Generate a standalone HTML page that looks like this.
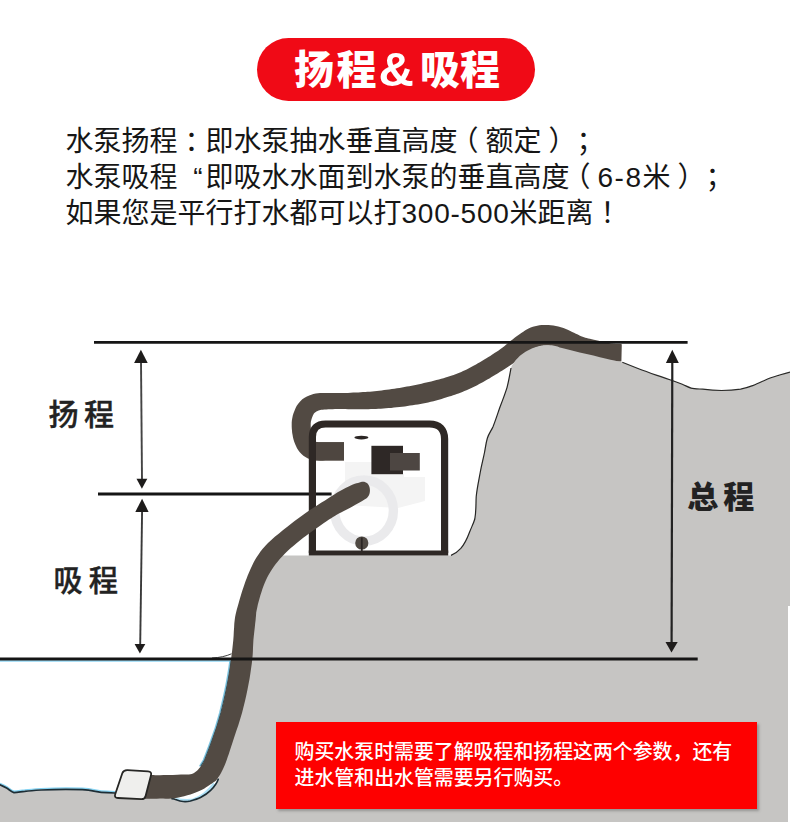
<!DOCTYPE html>
<html lang="zh-CN">
<head>
<meta charset="utf-8">
<title>扬程&amp;吸程</title>
<style>
html,body{margin:0;padding:0;background:#fff;}
body{width:790px;height:822px;position:relative;overflow:hidden;
  font-family:"Liberation Sans","Noto Sans CJK SC",sans-serif;}
#pill{position:absolute;left:257px;top:38px;width:278px;height:63px;border-radius:32px;
  background:#f00a16;color:#fff;font-weight:900;font-size:40px;line-height:64px;
  text-align:center;white-space:nowrap;box-sizing:border-box;padding-left:2px;
  font-family:"Liberation Sans","Noto Sans CJK SC",sans-serif;}
#pill .amp{display:inline-block;margin:0 6px 0 2px;font-size:49px;line-height:40px;vertical-align:-2px;font-weight:700;}
#desc{position:absolute;left:65.5px;top:124px;width:720px;margin:0;
  font-family:"Liberation Sans","Noto Sans CJK SC",sans-serif;
  font-size:28px;line-height:36px;color:#161616;white-space:nowrap;font-weight:400;text-spacing-trim:space-all;}
#desc div{height:36px;}
#desc .p{display:inline-block;width:28px;text-align:center;font-feature-settings:"halt" 1;}
#desc .q{display:inline-block;width:28px;text-align:right;font-feature-settings:"halt" 1;position:relative;left:-3px;}
#desc .n{font-family:"Liberation Sans",sans-serif;}
#dia{position:absolute;left:0;top:0;width:790px;height:822px;}
.lbl{position:absolute;font-family:"Liberation Sans","Noto Sans CJK SC",sans-serif;
  color:#222;white-space:nowrap;line-height:1;}
#note{position:absolute;left:276px;top:722px;width:481px;height:87px;background:#fe0000;
  box-shadow:1.5px 2px 2.5px rgba(90,90,90,.45);}
#note p{position:absolute;left:18.6px;top:18.1px;margin:0;color:#fff;
  font-family:"Liberation Sans","Noto Sans CJK SC",sans-serif;
  font-size:19.9px;line-height:25.6px;white-space:nowrap;font-weight:500;}
</style>
</head>
<body>
<svg id="dia" width="790" height="822" viewBox="0 0 790 822">
  <!-- discharge hose (behind ground and frame) -->
  <path fill="#524a43" d="M344.0,442.2 L341.7,442.2 L339.3,442.2 L337.0,442.2 L334.7,442.2 L332.3,442.2 L330.0,442.2 L327.4,442.2 L324.8,442.3 L322.4,442.3 L320.3,442.3 L318.6,442.2 L317.4,442.1 L316.5,441.9 L315.8,441.6 L315.3,441.5 L315.0,441.3 L314.8,441.1 L314.5,440.9 L314.2,440.5 L313.8,440.0 L313.4,439.3 L313.0,438.3 L312.5,437.2 L312.1,436.0 L311.8,434.9 L311.5,433.5 L311.2,432.1 L311.0,430.5 L310.9,428.9 L310.8,427.4 L310.7,425.9 L310.7,424.6 L310.7,423.5 L310.8,422.4 L310.9,421.5 L311.2,420.5 L311.5,419.2 L312.0,417.7 L312.6,416.3 L313.1,415.1 L313.6,414.2 L313.9,413.6 L314.2,413.2 L314.7,412.7 L315.4,412.2 L316.4,411.6 L317.5,411.0 L318.6,410.5 L319.5,410.2 L320.3,410.0 L321.3,409.8 L322.7,409.7 L324.4,409.6 L326.3,409.4 L328.3,409.3 L330.4,409.2 L332.6,409.2 L335.0,409.1 L337.5,409.1 L340.1,409.1 L342.6,409.1 L345.3,409.1 L348.1,409.2 L350.8,409.2 L353.5,409.3 L356.2,409.3 L358.7,409.3 L361.1,409.3 L363.6,409.3 L366.0,409.3 L368.4,409.2 L370.9,409.1 L373.4,409.0 L375.9,408.9 L378.4,408.8 L380.8,408.7 L383.4,408.5 L385.9,408.3 L388.6,408.1 L391.2,407.9 L394.0,407.6 L396.7,407.3 L399.4,407.0 L402.1,406.7 L404.8,406.4 L407.4,406.0 L410.0,405.6 L412.6,405.2 L415.2,404.8 L417.8,404.4 L420.4,403.9 L423.0,403.5 L425.6,403.0 L428.2,402.4 L430.8,401.8 L433.5,401.2 L436.1,400.5 L438.9,399.7 L441.6,398.9 L444.2,398.1 L446.7,397.3 L449.1,396.6 L451.2,395.9 L453.1,395.3 L454.9,394.7 L456.7,394.1 L458.5,393.4 L460.4,392.7 L462.4,391.9 L464.4,391.1 L466.5,390.2 L468.7,389.3 L470.9,388.3 L473.0,387.3 L475.1,386.3 L477.2,385.2 L479.2,384.1 L481.2,383.0 L483.2,381.9 L485.2,380.8 L487.3,379.6 L489.4,378.4 L491.5,377.1 L493.7,375.8 L495.8,374.5 L498.0,373.2 L500.1,371.8 L502.4,370.5 L504.7,369.0 L507.0,367.6 L509.2,366.1 L511.5,364.6 L513.7,363.0 L515.7,361.5 L517.7,360.0 L519.5,358.6 L521.2,357.3 L522.9,356.1 L524.6,354.9 L526.3,353.6 L527.9,352.5 L529.4,351.5 L530.9,350.5 L532.3,349.7 L533.7,348.8 L535.1,348.1 L536.3,347.5 L537.3,347.0 L538.2,346.7 L539.1,346.4 L540.2,346.1 L541.2,345.8 L542.3,345.7 L543.4,345.5 L544.5,345.5 L545.8,345.4 L547.2,345.5 L548.8,345.6 L550.4,345.9 L552.0,346.1 L553.6,346.5 L555.1,346.8 L556.6,347.3 L558.2,347.9 L559.9,348.6 L561.9,349.4 L564.0,350.3 L566.0,351.2 L567.9,351.9 L569.7,352.7 L571.6,353.5 L573.6,354.3 L575.8,355.1 L578.0,355.9 L580.3,356.5 L582.4,357.0 L584.4,357.4 L586.3,357.7 L588.2,358.0 L590.1,358.3 L592.3,358.7 L594.8,359.2 L597.3,359.6 L599.9,360.1 L602.3,360.5 L604.5,360.8 L606.4,361.1 L608.1,361.2 L609.6,361.3 L611.0,361.3 L612.2,361.4 L613.5,361.4 L614.9,361.4 L616.3,361.4 L617.7,361.4 L619.0,361.4 L620.2,361.4 L621.4,361.4 L621.8,344.2 L620.5,344.1 L619.2,344.1 L618.0,344.0 L616.8,344.0 L615.7,343.9 L614.5,343.8 L613.3,343.7 L612.2,343.6 L611.2,343.4 L610.1,343.3 L608.9,343.1 L607.5,342.8 L605.7,342.4 L603.5,341.9 L601.1,341.4 L598.6,340.8 L596.2,340.2 L593.9,339.7 L591.8,339.2 L589.9,338.8 L588.2,338.5 L586.7,338.1 L585.3,337.7 L584.0,337.3 L582.6,336.8 L581.1,336.2 L579.5,335.4 L577.8,334.6 L575.9,333.7 L574.0,332.8 L572.2,332.0 L570.3,331.1 L568.2,330.1 L565.9,329.0 L563.5,328.0 L560.9,327.2 L558.3,326.5 L555.8,326.0 L553.4,325.5 L550.9,325.2 L548.5,325.0 L546.2,325.0 L543.9,325.0 L541.6,325.1 L539.4,325.3 L537.2,325.7 L535.0,326.2 L532.9,326.8 L530.7,327.6 L528.6,328.6 L526.7,329.6 L525.0,330.6 L523.3,331.7 L521.7,332.7 L519.9,333.9 L518.1,335.2 L516.3,336.5 L514.6,337.8 L512.9,339.2 L511.1,340.5 L509.3,342.0 L507.5,343.5 L505.7,344.9 L504.0,346.4 L502.3,347.7 L500.5,349.0 L498.6,350.4 L496.6,351.7 L494.5,353.1 L492.3,354.5 L490.2,355.9 L488.0,357.2 L486.0,358.5 L483.9,359.8 L481.9,361.0 L479.9,362.2 L477.9,363.3 L476.0,364.4 L474.0,365.5 L472.1,366.6 L470.3,367.6 L468.5,368.5 L466.7,369.4 L465.0,370.3 L463.1,371.1 L461.3,371.9 L459.3,372.7 L457.4,373.5 L455.5,374.2 L453.6,374.9 L451.9,375.5 L450.3,376.1 L448.8,376.6 L447.2,377.1 L445.5,377.6 L443.5,378.2 L441.3,378.8 L438.9,379.5 L436.4,380.1 L433.8,380.8 L431.2,381.4 L428.7,382.0 L426.3,382.6 L423.9,383.1 L421.5,383.7 L419.1,384.2 L416.7,384.7 L414.2,385.2 L411.8,385.7 L409.3,386.2 L406.9,386.6 L404.4,387.1 L402.0,387.5 L399.5,387.9 L396.9,388.3 L394.4,388.7 L391.8,389.1 L389.2,389.4 L386.6,389.8 L384.1,390.1 L381.6,390.4 L379.2,390.7 L376.9,391.0 L374.5,391.2 L372.2,391.5 L369.9,391.7 L367.6,391.8 L365.3,392.0 L363.0,392.1 L360.7,392.3 L358.3,392.4 L355.8,392.5 L353.3,392.6 L350.6,392.7 L347.9,392.9 L345.2,393.0 L342.5,393.0 L339.9,393.1 L337.5,393.1 L335.1,393.1 L332.6,393.0 L330.2,393.0 L327.9,392.9 L325.7,393.0 L323.8,393.0 L322.0,393.0 L320.0,393.1 L317.9,393.2 L315.7,393.6 L313.4,394.1 L311.3,394.7 L309.2,395.5 L306.9,396.5 L304.6,397.7 L302.3,399.3 L300.1,401.4 L298.2,403.7 L296.6,406.1 L295.4,408.6 L294.4,411.0 L293.5,413.3 L292.8,415.5 L292.3,417.9 L291.9,420.2 L291.7,422.5 L291.7,424.6 L291.7,426.6 L291.8,428.6 L292.0,430.7 L292.2,432.9 L292.6,435.1 L293.0,437.4 L293.6,439.7 L294.3,442.0 L295.1,444.1 L296.0,446.1 L297.0,448.2 L298.3,450.2 L299.8,452.2 L301.5,454.1 L303.4,455.7 L305.4,457.1 L307.5,458.3 L309.8,459.2 L312.1,459.8 L314.6,460.3 L317.3,460.6 L320.1,460.7 L322.8,460.7 L325.4,460.5 L327.8,460.4 L330.0,460.4 L332.3,460.4 L334.7,460.4 L337.0,460.4 L339.3,460.4 L341.7,460.4 L344.0,460.4 Z"/>
  <!-- ground -->
  <path id="ground" fill="#c6c5c3" stroke="none"
    d="M266,555.4 L451,555.4 C455,554 458,551.5 460.8,548.4 C464.5,544 467,539 469.2,533
       C471.5,527 473.5,523.5 474.8,519 C476.2,512 475.8,504 476.2,496.7 C477,488 479,479.5 480.4,471.5
       C481.6,465 483.3,458.5 484.6,452 C485.5,447.5 486,442.5 487.4,438 C488.6,434 491.3,430.5 493,426.7
       C495.5,420.5 497.7,413.5 500,407 C502.5,400.5 505,394 507,387.6 C508.8,381 509.8,374.5 511,368 C511.6,365.8 512.8,364 514,362.4 C516.3,359.3 519,356.3 522.3,354 C526.5,351 531,348.5 536,347
       C540.5,345.8 547,345.2 553,345.4 C556,345.6 559,347.2 562,348.1 C568,349.8 574,351.2 579.7,352.5
       C589,354.6 598,356.6 606.3,358.7 C612,360 617,361 622.3,362.3 C628,364.5 633,366.5 638,368.5 C644.5,371 651,373.3 657,375.4 C662,377.2 667,378.8 672.2,380.5
       C675.5,381.7 679,383 682.3,384.3 C685.5,385.6 688,387.2 691.1,388.1 C694,388.9 698,388.9 702.7,389.2
       C709,390 715,390.5 721.6,390.5 C728,390.5 735,390 740.6,389.2 C745,388.3 749,387 753.3,385.4
       C757.5,383.7 762,381.5 766,379.7 C770,378 774.5,376.6 778.6,375.3 C782.5,374.2 786,373.2 790,372.2
       L790,822 L0,822 L0,784.7 C3,786 5,787 6.6,788 C9.5,789.8 11.5,792 14,792.6 C18,792.6 21,791.6 24.7,791.3
       C30,790.7 36,790.3 41,790 C49,789.6 58,789.3 65.8,789.3 C71,789.3 77,789.4 82.3,789.6
       C87,789.9 91,790.5 95.4,791.3 C99,792 103,792.5 107,792.6 L115,793 L115,797 L118,795 L172,795 L174.2,799 C177,800 180,801.3 183.3,801.5 C186,801.7 188,801.5 190.4,801
       C194,800 197.5,799 200.5,797.5 C204.5,795.5 208,793 210.6,790.4 C212.7,788.4 214.3,786.5 215.7,784.3
       C216.8,782.7 217.6,781 218.2,779.2
       C222,765 226,740 231.5,713 C234,700 236.5,690 238,683.8 C240,672 241,665 241.7,659 C242.5,650 243,645 243.2,640
       C243.8,632 244.5,626 245.2,620 L247.1,608.6 C248.3,602 250,596 251.8,591.5 C253.5,586 255.5,581 257.5,576.2
       C259.8,571 262,566.5 265.2,562 L270,555.4 Z"/>
  <!-- ground outline (thin) -->
  <path fill="none" stroke="#262624" stroke-width="1.2" d="M451,555.4 C455,554 458,551.5 460.8,548.4 C464.5,544 467,539 469.2,533
       C471.5,527 473.5,523.5 474.8,519 C476.2,512 475.8,504 476.2,496.7 C477,488 479,479.5 480.4,471.5
       C481.6,465 483.3,458.5 484.6,452 C485.5,447.5 486,442.5 487.4,438 C488.6,434 491.3,430.5 493,426.7
       C495.5,420.5 497.7,413.5 500,407 C502.5,400.5 505,394 507,387.6 C508.8,381 509.8,374.5 511,368"/>
  <path fill="none" stroke="#2a2a28" stroke-width="1.2" d="M622.3,362.3 C628,364.5 633,366.5 638,368.5 C644.5,371 651,373.3 657,375.4 C662,377.2 667,378.8 672.2,380.5
       C675.5,381.7 679,383 682.3,384.3 C685.5,385.6 688,387.2 691.1,388.1 C694,388.9 698,388.9 702.7,389.2
       C709,390 715,390.5 721.6,390.5 C728,390.5 735,390 740.6,389.2 C745,388.3 749,387 753.3,385.4
       C757.5,383.7 762,381.5 766,379.7 C770,378 774.5,376.6 778.6,375.3 C782.5,374.2 786,373.2 790,372.2"/>
  <!-- white strip at right edge -->
  <rect x="788" y="606" width="2" height="216" fill="#fff"/>
  <!-- water -->
  <path fill="#fff" stroke="none" d="M172,798.4 L175,797.8 C177,800 180,801.3 183.3,801.5 C186,801.7 188,801.5 190.4,801
       C194,800 197.5,799 200.5,797.5 C204.5,795.5 208,793 210.6,790.4 C212.7,788.4 214.3,786.5 215.7,784.3
       C216.8,782.7 217.6,781 218.2,779.2 L212,784 L190.4,794.4 Z"/>
  <path fill="none" stroke="#aee2f8" stroke-width="2.2" d="M176,799 C182,800 188,800.3 193,799.6 C201,797 208,791.5 214,783.5"/>
  <path fill="none" stroke="#8fd6f4" stroke-width="1.3" d="M0,661 L231,661"/>
  <path fill="none" stroke="#2a2a2a" stroke-width="0.9" d="M212,658 C220,657.6 226,656.2 231.5,653.8"/>
  <g transform="translate(0,-1.3)"><path fill="none" stroke="#86d3f2" stroke-width="1.6" stroke-linejoin="round"
    d="M0,784.7 C3,786 5,787 6.6,788 C9.5,789.8 11.5,792 14,792.6 C18,792.6 21,791.6 24.7,791.3
       C30,790.7 36,790.3 41,790 C49,789.6 58,789.3 65.8,789.3 C71,789.3 77,789.4 82.3,789.6
       C87,789.9 91,790.5 95.4,791.3 C99,792 103,792.5 107,792.6 L115,793"/></g>
  <g transform="translate(-1.2,0)"><path fill="none" stroke="#7cc4e0" stroke-width="1.4"
    d="M231.1,661 C230,670 228.5,678 227.4,683.8 C225.5,694 223,704 220.9,713 C218,724 215,733 211.4,742.2 C209,749 206.5,755 204.6,760 L200.8,766.3"/></g>
  <path fill="none" stroke="#1d2e36" stroke-width="1.7" stroke-linejoin="round" stroke-linecap="round"
    d="M0,784.7 C3,786 5,787 6.6,788 C9.5,789.8 11.5,792 14,792.6 C18,792.6 21,791.6 24.7,791.3
       C30,790.7 36,790.3 41,790 C49,789.6 58,789.3 65.8,789.3 C71,789.3 77,789.4 82.3,789.6
       C87,789.9 91,790.5 95.4,791.3 C99,792 103,792.5 107,792.6 L115,793
       M172,798.6 L174.2,799 C177,800 180,801.3 183.3,801.5 C186,801.7 188,801.5 190.4,801
       C194,800 197.5,799 200.5,797.5 C204.5,795.5 208,793 210.6,790.4 C212.7,788.4 214.3,786.5 215.7,784.3
       C216.8,782.7 217.6,781 218.2,779.2"/>
  <path fill="none" stroke="#2b5566" stroke-width="1.2"
    d="M231.1,661 C230,670 228.5,678 227.4,683.8 C225.5,694 223,704 220.9,713 C218,724 215,733 211.4,742.2 C209,749 206.5,755 204.6,760 L200.8,766.3"/>

  <!-- arrows -->
  <g fill="none">
    <line x1="141" y1="361" x2="142" y2="480" stroke="#444" stroke-width="1.9"/>
    <line x1="142.1" y1="510" x2="140.2" y2="645" stroke="#3a3a3a" stroke-width="1.9"/>
    <line x1="672.3" y1="361" x2="671.6" y2="643" stroke="#222" stroke-width="2.2"/>
  </g>
  <g fill="#1e1c1b" stroke="none">
    <path d="M140.9,349.7 L147.7,362.9 L134.1,362.9 Z"/>
    <path d="M141.9,488.7 L147.3,478.8 L136.5,478.8 Z"/>
    <path d="M142.1,498.8 L148.6,511.9 L135.3,511.9 Z"/>
    <path d="M139.9,653.5 L145.3,644 L134.6,644 Z"/>
    <path d="M672.3,349.7 L678.8,362.9 L665.9,362.9 Z"/>
    <path d="M671.5,652.5 L677.7,642.1 L665.5,642.1 Z"/>
  </g>

  <!-- pump -->
  <path d="M345,462 L372,462 L372,474 L404,474 L404,477 L425,477 L425,501 L398,508 L345,505 Z" fill="#f4f4f4"/>
  <ellipse cx="364" cy="510.6" rx="29.4" ry="30.6" fill="none" stroke="#eaeaec" stroke-width="9.4"/>
  <!-- hose stub inside frame -->
  <rect x="315" y="442.2" width="29" height="18.2" fill="#4e4640"/>
  <!-- middle line -->
  <line x1="98" y1="494" x2="331.6" y2="494" stroke="#151515" stroke-width="2.8"/>
  <!-- frame -->
  <path fill="none" stroke="#2e2825" stroke-width="7.2" stroke-linejoin="round"
    d="M312.4,553 L312.4,437 C312.4,428.5 317,424 325.5,424 L429.5,424 C439.5,424 444.6,429.5 444.6,439 L444.6,553"/>
  <line x1="308.8" y1="553" x2="448.2" y2="553" stroke="#2e2825" stroke-width="4.8"/>
  <!-- motor blocks -->
  <rect x="371.4" y="445.8" width="31.6" height="28.4" fill="#2e2826"/>
  <rect x="390" y="453" width="29.8" height="17.5" fill="#4d4642"/>
  <ellipse cx="361.4" cy="437.6" rx="7" ry="1.8" fill="#2b2624"/>
  <!-- screw -->
  <circle cx="361.8" cy="543" r="6.6" fill="#4f4943"/>
  <line x1="361.8" y1="537.5" x2="361.8" y2="551" stroke="#2b2624" stroke-width="1.8"/>
  <!-- suction hose -->
  <path fill="#524a43" d="M361.0,482.0 L359.5,482.5 L358.0,482.9 L356.5,483.3 L354.8,483.8 L352.9,484.6 L350.7,485.6 L348.2,486.7 L345.5,488.0 L342.8,489.5 L340.0,491.0 L337.2,492.6 L334.3,494.4 L331.4,496.3 L328.3,498.3 L325.0,500.4 L321.5,502.6 L317.7,505.0 L313.8,507.5 L309.9,510.1 L306.0,512.7 L302.2,515.4 L298.4,518.2 L294.6,521.1 L290.8,524.0 L287.0,527.0 L283.1,530.1 L279.0,533.4 L275.1,536.6 L271.3,539.9 L268.0,543.0 L265.2,546.0 L262.7,548.8 L260.5,551.6 L258.5,554.4 L256.6,557.3 L254.8,560.3 L253.2,563.3 L251.7,566.4 L250.3,569.4 L249.0,572.5 L247.7,575.5 L246.6,578.4 L245.5,581.3 L244.4,584.4 L243.3,587.7 L242.1,591.3 L240.9,595.3 L239.7,599.3 L238.6,603.2 L237.6,606.7 L236.8,609.6 L236.2,612.1 L235.6,614.5 L235.1,617.0 L234.7,620.0 L234.3,623.6 L234.1,627.6 L233.8,631.8 L233.6,636.0 L233.3,640.0 L232.9,643.8 L232.5,647.4 L232.1,651.0 L231.6,654.8 L231.1,659.0 L230.5,663.5 L229.9,668.3 L229.2,673.3 L228.3,678.5 L227.4,683.8 L226.3,689.4 L225.1,695.2 L223.9,701.1 L222.4,707.1 L220.9,713.0 L219.1,719.0 L217.2,725.2 L215.1,731.3 L213.2,737.1 L211.4,742.2 L209.8,746.7 L208.3,750.7 L207.0,754.3 L205.7,757.4 L204.6,760.0 L203.7,762.0 L202.9,763.4 L202.2,764.4 L201.6,765.3 L200.8,766.3 L199.9,767.5 L199.0,768.6 L198.0,769.7 L197.0,770.7 L196.0,771.6 L195.0,772.3 L194.0,772.9 L193.0,773.4 L191.8,773.9 L190.4,774.2 L188.9,774.4 L187.5,774.5 L185.8,774.5 L183.7,774.5 L181.0,774.6 L177.4,774.7 L172.9,774.9 L168.2,775.0 L163.7,775.1 L160.0,775.2 L157.3,775.2 L155.2,775.2 L153.5,775.1 L151.8,775.1 L150.0,775.0 L143.5,798.9 L146.8,798.8 L150.2,798.8 L153.6,798.7 L156.8,798.7 L160.0,798.6 L163.0,798.6 L165.7,798.7 L168.5,798.7 L171.3,798.6 L174.2,798.3 L177.4,797.8 L180.7,797.1 L184.1,796.2 L187.4,795.3 L190.4,794.4 L193.1,793.5 L195.7,792.5 L198.1,791.5 L200.4,790.4 L202.5,789.4 L204.4,788.4 L206.1,787.3 L207.7,786.3 L209.2,785.3 L210.6,784.3 L212.0,783.4 L213.2,782.6 L214.4,781.8 L215.6,780.9 L216.7,779.7 L217.8,778.3 L218.9,776.6 L220.0,774.8 L221.0,773.0 L222.0,771.0 L223.0,769.1 L223.9,767.1 L224.8,765.0 L225.7,762.7 L226.7,760.0 L227.7,757.1 L228.8,753.9 L229.9,750.5 L231.2,746.6 L232.6,742.2 L234.3,737.1 L236.2,731.3 L238.3,725.2 L240.2,719.0 L242.0,713.0 L243.5,707.1 L245.0,701.1 L246.3,695.2 L247.5,689.4 L248.6,683.8 L249.6,678.5 L250.4,673.3 L251.1,668.3 L251.8,663.5 L252.3,659.0 L252.7,654.8 L252.9,651.0 L253.0,647.4 L253.2,643.8 L253.4,640.0 L253.8,635.9 L254.3,631.6 L254.8,627.3 L255.2,623.3 L255.6,620.0 L255.8,617.5 L256.0,615.7 L256.1,614.2 L256.2,612.6 L256.6,610.5 L257.2,607.8 L257.8,604.8 L258.6,601.7 L259.5,598.4 L260.4,595.3 L261.4,592.2 L262.4,589.1 L263.5,586.0 L264.7,582.9 L266.0,580.0 L267.3,577.2 L268.8,574.6 L270.3,572.0 L271.9,569.4 L273.7,566.8 L275.7,564.1 L277.8,561.5 L280.0,558.8 L282.4,556.2 L285.0,553.5 L287.8,550.8 L290.8,548.1 L293.9,545.4 L297.1,542.7 L300.2,540.2 L303.3,537.8 L306.4,535.4 L309.4,533.2 L312.5,531.0 L315.4,528.9 L318.3,526.9 L321.1,524.9 L323.9,523.0 L326.5,521.2 L329.0,519.6 L331.2,518.2 L333.0,517.0 L334.8,515.9 L336.7,514.8 L338.9,513.6 L341.5,512.2 L344.3,510.7 L347.3,509.2 L350.2,507.7 L352.9,506.2 L355.4,504.8 L357.7,503.5 L360.0,502.2 L362.2,500.9 L364.5,499.6 C369.5,497.2 370.6,492 369.6,487.5 C368.8,483.5 365.5,481 361,482 Z"/>
  <!-- dimension lines -->
  <g stroke="#151515" stroke-width="2.7" fill="none">
    <line x1="94" y1="342.3" x2="687.6" y2="342.3"/>
    <line x1="0" y1="659.1" x2="697.7" y2="659.1" stroke-width="3"/>
  </g>
  <!-- strainer -->
  <path fill="#efefed" stroke="#262624" stroke-width="1.8" stroke-linejoin="round"
    d="M127.5,770.2 L148,771.3 Q152,771.6 151,775.3 L145.6,796 Q144.7,799.3 141.3,799.2 L118,798 Q114,797.8 115.2,794.2 L122.3,773.3 Q123.5,770 127.5,770.2 Z"/>
</svg>

<div id="pill"><span style="letter-spacing:2.5px">扬</span>程<span class="amp">&amp;</span>吸程</div>

<div id="desc">
  <div>水泵扬程<span class="p">：</span>即水泵抽水垂直高度<span class="p">（</span>额定<span class="p">）</span><span class="p">；</span></div>
  <div>水泵吸程<span class="q">“</span>即吸水水面到水泵的垂直高度<span class="p">（</span><span class="n" style="letter-spacing:1.5px">6-8</span>米<span class="p">）</span><span class="p">；</span></div>
  <div>如果您是平行打水都可以打<span class="n" style="letter-spacing:.75px">300-500</span>米距离<span class="p">！</span></div>
</div>

<div class="lbl" id="l1" style="left:48.5px;top:400.2px;font-size:30px;letter-spacing:5.5px;font-weight:500;-webkit-text-stroke:0.4px #222;">扬程</div>
<div class="lbl" id="l2" style="left:53.5px;top:566.8px;font-size:29.2px;letter-spacing:6px;font-weight:500;-webkit-text-stroke:0.4px #222;">吸程</div>
<div class="lbl" id="l3" style="left:687.3px;top:482px;font-size:31px;letter-spacing:5px;font-weight:900;">总程</div>

<div id="note"><p>购买水泵时需要了解吸程和扬程这两个参数，还有<br>进水管和出水管需要另行购买。</p></div>
</body>
</html>
